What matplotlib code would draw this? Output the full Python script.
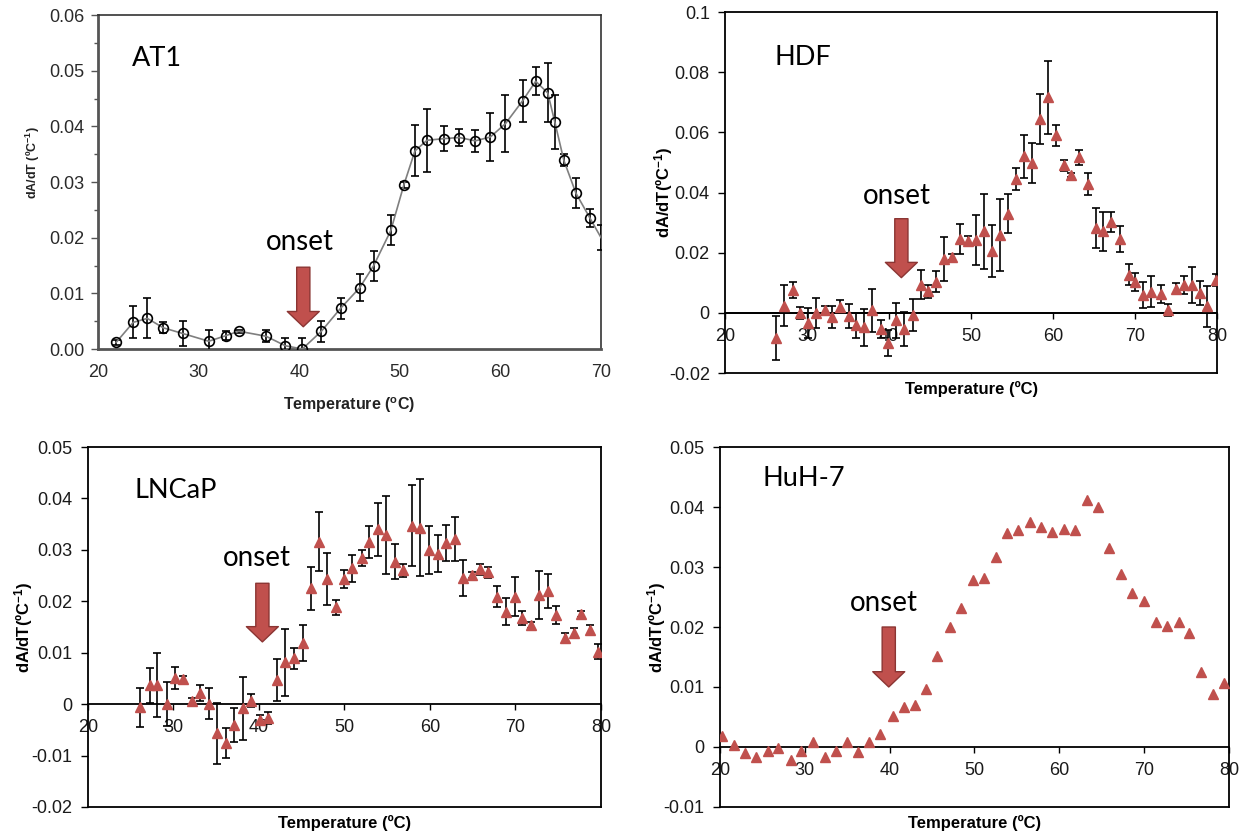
import matplotlib
matplotlib.use('Agg')
import matplotlib.pyplot as plt
from matplotlib.ticker import MultipleLocator, FuncFormatter

# ---------------- data ----------------
at1_temp = [21.8, 23.5, 24.9, 26.5, 28.4, 31.0, 32.7, 34.0, 36.7, 38.6, 40.3, 42.2, 44.1, 46.0, 47.4, 49.1,
            50.4, 51.5, 52.7, 54.4, 55.9, 57.5, 59.0, 60.5, 62.2, 63.5, 64.7, 65.4, 66.3, 67.5, 68.9, 70.0]
at1_val = [0.0012, 0.0048, 0.0055, 0.0038, 0.0028, 0.0014, 0.0024, 0.0032, 0.0023, 0.0006, 0.0000, 0.0032,
           0.0073, 0.0110, 0.0150, 0.0213, 0.0295, 0.0356, 0.0375, 0.0378, 0.0380, 0.0374, 0.0381, 0.0405,
           0.0446, 0.0481, 0.0460, 0.0408, 0.0339, 0.0280, 0.0235, 0.0200]
at1_err = [0.0004, 0.0029, 0.0036, 0.0010, 0.0022, 0.0020, 0.0008, 0.0003, 0.0011, 0.0013, 0.0020, 0.0019,
           0.0019, 0.0024, 0.0027, 0.0027, 0.0005, 0.0046, 0.0057, 0.0022, 0.0016, 0.0020, 0.0043, 0.0051,
           0.0038, 0.0025, 0.0053, 0.0048, 0.0011, 0.0027, 0.0016, 0.0022]

hdf_temp = [26.2, 27.2, 28.3, 29.2, 30.1, 31.1, 32.2, 33.1, 34.0, 35.1, 36.0, 36.9, 37.9, 39.0, 39.9,
            40.8, 41.8, 42.9, 43.9, 44.7, 45.7, 46.7, 47.7, 48.7, 49.6, 50.6, 51.6, 52.6, 53.5, 54.5,
            55.5, 56.4, 57.4, 58.4, 59.4, 60.3, 61.3, 62.2, 63.2, 64.2, 65.2, 66.1, 67.1, 68.1, 69.2,
            70.0, 71.0, 72.0, 73.1, 74.0, 75.0, 76.0, 77.0, 77.9, 78.8, 79.9]
hdf_val = [-0.0084, 0.0024, 0.0076, 0.0000, -0.0034, 0.0000, 0.0008, -0.0014, 0.0021, -0.0009,
           -0.0042, -0.0048, 0.0008, -0.0053, -0.0101, -0.0025, -0.0053, -0.0007, 0.0093, 0.0072,
           0.0104, 0.0179, 0.0185, 0.0246, 0.0238, 0.0243, 0.0271, 0.0205, 0.0259, 0.0329,
           0.0445, 0.0520, 0.0498, 0.0643, 0.0716, 0.0590, 0.0491, 0.0459, 0.0517, 0.0428,
           0.0281, 0.0271, 0.0303, 0.0246, 0.0127, 0.0104, 0.0058, 0.0071, 0.0063, 0.0011,
           0.0080, 0.0093, 0.0093, 0.0066, 0.0022, 0.0110]
hdf_err = [0.0072, 0.0068, 0.0025, 0.0020, 0.0050, 0.0050, 0.0015, 0.0037, 0.0023, 0.0040,
           0.0043, 0.0062, 0.0072, 0.0030, 0.0044, 0.0057, 0.0056, 0.0052, 0.0048, 0.0021,
           0.0034, 0.0072, 0.0010, 0.0051, 0.0017, 0.0083, 0.0124, 0.0086, 0.0121, 0.0065,
           0.0038, 0.0072, 0.0065, 0.0083, 0.0122, 0.0036, 0.0018, 0.0006, 0.0024, 0.0036,
           0.0067, 0.0065, 0.0033, 0.0044, 0.0034, 0.0030, 0.0043, 0.0050, 0.0030, 0.0020,
           0.0018, 0.0030, 0.0060, 0.0040, 0.0068, 0.0020]

ln_temp = [26.1, 27.2, 28.1, 29.2, 30.2, 31.1, 32.2, 33.1, 34.1, 35.1, 36.1, 37.1, 38.1, 39.1, 40.1,
           41.1, 42.1, 43.1, 44.1, 45.1, 46.1, 47.0, 48.0, 49.0, 49.9, 50.9, 52.0, 52.9, 53.9, 54.9,
           55.9, 56.9, 57.9, 58.8, 59.9, 60.9, 61.9, 62.9, 63.9, 64.9, 65.9, 66.8, 67.9, 68.9, 69.9,
           70.8, 71.8, 72.8, 73.8, 74.8, 75.8, 76.8, 77.7, 78.7, 79.7]
ln_val = [-0.0006, 0.0037, 0.0037, 0.0000, 0.0051, 0.0049, 0.0006, 0.0022, 0.0001, -0.0057,
          -0.0075, -0.0040, -0.0008, 0.0007, -0.0031, -0.0027, 0.0047, 0.0081, 0.0089, 0.0119,
          0.0225, 0.0316, 0.0243, 0.0188, 0.0243, 0.0264, 0.0284, 0.0316, 0.0340, 0.0329,
          0.0277, 0.0260, 0.0347, 0.0343, 0.0300, 0.0292, 0.0314, 0.0321, 0.0245, 0.0251,
          0.0262, 0.0256, 0.0209, 0.0180, 0.0209, 0.0168, 0.0154, 0.0212, 0.0220, 0.0173,
          0.0128, 0.0138, 0.0175, 0.0145, 0.0102]
ln_err = [0.0038, 0.0034, 0.0062, 0.0043, 0.0021, 0.0006, 0.0006, 0.0016, 0.0030, 0.0060,
          0.0029, 0.0033, 0.0061, 0.0013, 0.0009, 0.0011, 0.0040, 0.0065, 0.0021, 0.0035,
          0.0042, 0.0057, 0.0050, 0.0015, 0.0017, 0.0026, 0.0015, 0.0031, 0.0051, 0.0075,
          0.0034, 0.0012, 0.0079, 0.0094, 0.0046, 0.0036, 0.0035, 0.0042, 0.0035, 0.0006,
          0.0011, 0.0010, 0.0021, 0.0026, 0.0038, 0.0014, 0.0006, 0.0047, 0.0033, 0.0017,
          0.0010, 0.0010, 0.0006, 0.0009, 0.0015]

huh_temp = [20.2, 21.7, 23.0, 24.3, 25.7, 26.9, 28.4, 29.6, 31.0, 32.4, 33.7, 35.0, 36.3, 37.6, 38.9,
            40.4, 41.7, 43.0, 44.3, 45.6, 47.1, 48.4, 49.8, 51.1, 52.5, 53.8, 55.1, 56.6, 57.9, 59.2,
            60.6, 61.9, 63.3, 64.6, 65.9, 67.3, 68.6, 70.0, 71.4, 72.7, 74.1, 75.3, 76.7, 78.1, 79.4]
huh_val = [0.0019, 0.0003, -0.0010, -0.0017, -0.0006, -0.0001, -0.0021, -0.0007, 0.0008, -0.0017,
           -0.0007, 0.0008, -0.0008, 0.0008, 0.0021, 0.0051, 0.0067, 0.0070, 0.0097, 0.0152,
           0.0200, 0.0231, 0.0278, 0.0282, 0.0317, 0.0356, 0.0362, 0.0375, 0.0366, 0.0359,
           0.0363, 0.0362, 0.0412, 0.0400, 0.0331, 0.0289, 0.0256, 0.0243, 0.0208, 0.0201,
           0.0209, 0.0190, 0.0125, 0.0088, 0.0106]

panel_titles = ['AT1', 'HDF', 'LNCaP', 'HuH-7']
onset_label = 'onset'

# ---------------- styling ----------------
plt.rcParams['font.family'] = ['Liberation Sans', 'DejaVu Sans']
plt.rcParams['mathtext.fontset'] = 'custom'
plt.rcParams['mathtext.rm'] = 'Liberation Sans'
plt.rcParams['mathtext.bf'] = 'Liberation Sans:bold'
plt.rcParams['mathtext.it'] = 'Liberation Sans:italic'

RED = '#C0504D'
ARROW_EDGE = '#8B3533'
ANN_FONT = ['Lato', 'DejaVu Sans']
TICK_SIZE = 13
TICK_COLOR = '#1a1a1a'

fig = plt.figure(figsize=(12.46, 8.36), dpi=100)


def general_fmt(v, pos):
    v = round(v, 6)
    if abs(v) < 1e-12:
        return '0'
    return f'{v:g}'


def add_annotations(ax, title_xy, onset_xy, arrow_x, arrow_top, arrow_tip, title):
    ax.text(title_xy[0], title_xy[1], title, family=ANN_FONT, fontsize=19.5,
            ha='left', va='center', color='black')
    ax.text(onset_xy[0], onset_xy[1], onset_label, family=ANN_FONT, fontsize=20,
            ha='left', va='center', color='black')
    ax.annotate('', xy=(arrow_x, arrow_tip), xytext=(arrow_x, arrow_top),
                arrowprops=dict(arrowstyle='simple,head_length=1.1,head_width=2.3,tail_width=0.95',
                                mutation_scale=10, fc=RED, ec=ARROW_EDGE, lw=1.0,
                                shrinkA=0, shrinkB=0))


def setup_excel(ax, ylim, ystep, ylabel_y=0.5):
    ax.set_xlim(20, 80)
    ax.set_ylim(*ylim)
    for s in ax.spines.values():
        s.set_color('black')
        s.set_linewidth(1.3)
    ax.spines['bottom'].set_position(('data', 0))
    ax.axhline(ylim[0], color='black', lw=1.3, clip_on=False, zorder=3)
    ax.xaxis.set_major_locator(MultipleLocator(10))
    ax.yaxis.set_major_locator(MultipleLocator(ystep))
    ax.yaxis.set_major_formatter(FuncFormatter(general_fmt))
    ax.xaxis.set_major_formatter(FuncFormatter(general_fmt))
    ax.tick_params(axis='y', direction='out', length=5, width=1.0, pad=6,
                   labelsize=TICK_SIZE, labelcolor=TICK_COLOR)
    ax.tick_params(axis='x', direction='out', length=4, width=1.0, pad=7,
                   labelsize=TICK_SIZE, labelcolor=TICK_COLOR)
    ax.text(0.5, -0.045, 'Temperature (\u00baC)', transform=ax.transAxes, ha='center', va='center',
            fontsize=12, fontweight='bold')
    ax.text(-0.125, ylabel_y, 'dA/dT(\u00baC$^{\\mathbf{-1}}$)', transform=ax.transAxes,
            rotation=90, ha='center', va='center', fontsize=12, fontweight='bold')


def draw_err(ax, x, y, e):
    ax.errorbar(x, y, yerr=e, fmt='none', ecolor='black', elinewidth=1.2, capsize=3,
                capthick=1.2, zorder=4)
    ax.plot(x, y, linestyle='none', marker='^', markersize=6.5, color=RED,
            markeredgecolor=RED, zorder=5)


# ---------- AT1 ----------
ax1 = fig.add_axes([0.0787, 0.5825, 0.4037, 0.3995])
ax1.set_xlim(20, 70)
ax1.set_ylim(0, 0.06)
ax1.errorbar(at1_temp, at1_val, yerr=at1_err, fmt='none', ecolor='black', elinewidth=1.2,
             capsize=3, capthick=1.2, zorder=3)
ax1.plot(at1_temp, at1_val, color='#7f7f7f', lw=1.2, marker='o', markersize=7,
         markerfacecolor='none', markeredgecolor='black', markeredgewidth=1.2, zorder=4,
         markevery=slice(0, len(at1_temp) - 1))
ax1.xaxis.set_major_locator(MultipleLocator(10))
ax1.yaxis.set_major_locator(MultipleLocator(0.01))
ax1.yaxis.set_minor_locator(MultipleLocator(0.005))
ax1.yaxis.set_major_formatter(FuncFormatter(lambda v, p: f'{v:.2f}'))
ax1.tick_params(axis='y', which='major', direction='out', length=5, width=1.0, pad=5,
                labelsize=TICK_SIZE, labelcolor='#2a2a2a', color='#555555')
ax1.tick_params(axis='y', which='minor', direction='out', length=3, width=1.0, color='#555555')
ax1.tick_params(axis='x', length=0, pad=11, labelsize=TICK_SIZE, labelcolor='#2a2a2a')
for s in ax1.spines.values():
    s.set_color('#333333')
    s.set_linewidth(1.2)
ax1.spines['left'].set_linewidth(2.0)
ax1.spines['left'].set_color('#555555')
ax1.spines['bottom'].set_linewidth(2.0)
ax1.spines['bottom'].set_color('#555555')
ax1.text(0.5, -0.168, 'Temperature ($^{\\mathbf{o}}$C)', transform=ax1.transAxes,
         ha='center', va='center', fontsize=11.5, fontweight='bold', color='#222222')
ax1.text(-0.129, 0.557, 'dA/dT (\u00baC$^{\\mathbf{-1}}$)', transform=ax1.transAxes, rotation=90,
         ha='center', va='center', fontsize=9, fontweight='bold', color='#222222')
add_annotations(ax1, (23.4, 0.0522), (36.7, 0.0192), 40.4, 0.0147, 0.0040, panel_titles[0])

# ---------- HDF ----------
ax2 = fig.add_axes([0.5819, 0.5538, 0.3949, 0.4318])
setup_excel(ax2, (-0.02, 0.1), 0.02)
ax2.axhline(0, color='black', lw=1.3, zorder=2)
draw_err(ax2, hdf_temp, hdf_val, hdf_err)
add_annotations(ax2, (26.0, 0.085), (36.8, 0.039), 41.5, 0.0313, 0.0117, panel_titles[1])

# ---------- LNCaP ----------
ax3 = fig.add_axes([0.0706, 0.0347, 0.4117, 0.4306])
setup_excel(ax3, (-0.02, 0.05), 0.01)
draw_err(ax3, ln_temp, ln_val, ln_err)
add_annotations(ax3, (25.4, 0.0416), (35.8, 0.0284), 40.4, 0.0235, 0.0121, panel_titles[2])

# ---------- HuH-7 ----------
ax4 = fig.add_axes([0.5778, 0.0347, 0.4085, 0.4306])
setup_excel(ax4, (-0.01, 0.05), 0.01)
ax4.plot(huh_temp, huh_val, linestyle='none', marker='^', markersize=6.5, color=RED, zorder=5)
add_annotations(ax4, (25.0, 0.0448), (35.3, 0.024), 39.9, 0.020, 0.010, panel_titles[3])

fig.savefig('out.png', dpi=100)
